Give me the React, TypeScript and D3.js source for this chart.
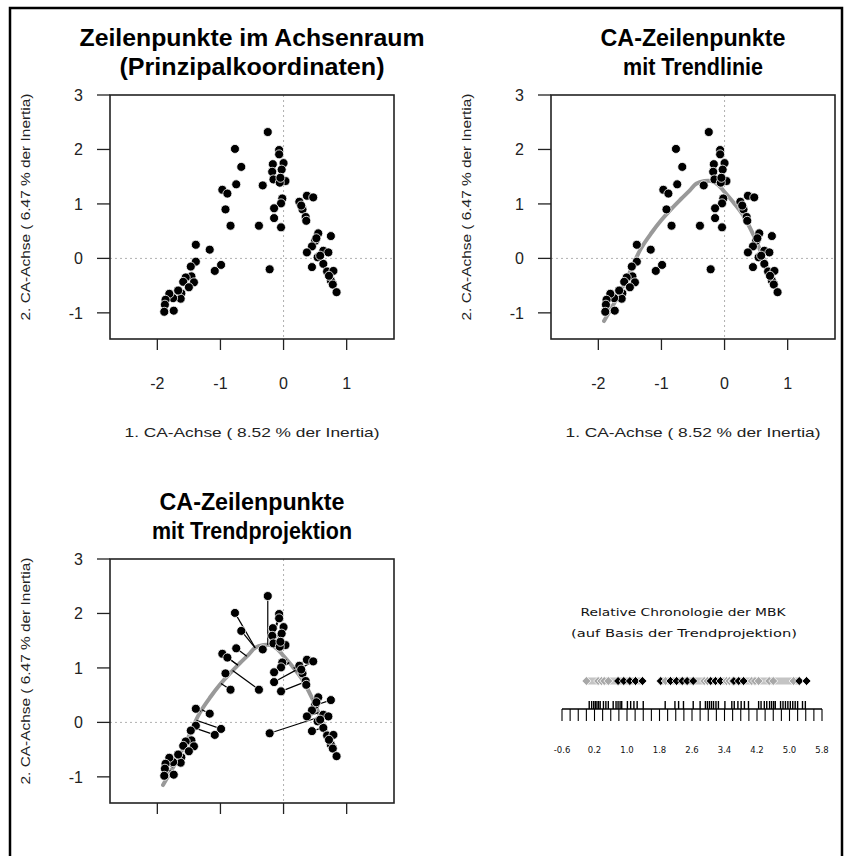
import React from "react";
import * as d3 from "d3";

// CA row points (1st axis, 2nd axis)
const rowX = [-0.25, -0.77, -0.07, -0.07, -0.17, 0.0, -0.03, -0.18, -0.67, -0.16, 0.03, -0.06, -0.75, -0.33, -0.97, -0.89, -0.02, -0.04, -0.92, -0.15, -0.15, -0.84, -0.39, -0.04, 0.25, 0.37, 0.47, 0.3, 0.35, 0.36, 0.55, 0.75, 0.5, 0.45, 0.37, 0.63, 0.71, 0.54, 0.63, 0.45, 0.69, 0.79, 0.75, 0.78, 0.84, -0.22, -1.39, -1.17, -1.39, -1.47, -0.99, -1.09, -1.46, -1.55, -1.42, -1.59, -1.5, -1.62, -1.63, -1.75, -1.81, -1.87, -1.88, -1.89, -1.74, -1.67, 0.52, 0.58, 0.72, -0.05, 0.28];
const rowY = [2.32, 2.01, 1.99, 1.91, 1.73, 1.75, 1.63, 1.59, 1.68, 1.45, 1.42, 1.39, 1.36, 1.34, 1.26, 1.19, 1.1, 1.01, 0.9, 0.92, 0.74, 0.6, 0.6, 0.57, 1.04, 1.15, 1.12, 0.9, 0.76, 0.69, 0.46, 0.41, 0.32, 0.22, 0.11, 0.14, 0.11, 0.02, -0.1, -0.16, -0.24, -0.23, -0.41, -0.48, -0.62, -0.2, 0.25, 0.16, -0.06, -0.15, -0.12, -0.23, -0.33, -0.35, -0.44, -0.43, -0.53, -0.64, -0.74, -0.73, -0.65, -0.76, -0.85, -0.98, -0.96, -0.59, 0.37, 0.05, -0.32, 1.48, 0.97];

// Trend line (smoothed)
const trendX = [-1.91, -1.7, -1.54, -1.33, -1.15, -1.01, -0.85, -0.69, -0.55, -0.45, -0.32, -0.21, -0.1, 0.0, 0.16, 0.3, 0.45, 0.59, 0.72, 0.84];
const trendY = [-1.15, -0.72, -0.35, 0.17, 0.48, 0.69, 0.9, 1.09, 1.25, 1.37, 1.42, 1.42, 1.35, 1.22, 1.0, 0.78, 0.45, 0.08, -0.28, -0.61];

const xTicks = [-2, -1, 0, 1];
const yTicks = [-1, 0, 1, 2, 3];

// Relative chronology (trend projection)
const chronoRug = [0.07, 0.13, 0.18, 0.22, 0.26, 0.3, 0.34, 0.42, 0.48, 0.54, 0.66, 0.73, 0.78, 0.83, 0.87, 1.01, 1.09, 1.17, 1.25, 1.4, 1.94, 2.18, 2.27, 2.39, 2.63, 2.8, 2.93, 2.98, 3.03, 3.08, 3.13, 3.19, 3.25, 3.41, 3.58, 3.64, 3.73, 3.81, 3.89, 3.99, 4.24, 4.3, 4.38, 4.44, 4.51, 4.56, 4.61, 4.65, 4.78, 4.84, 4.9, 4.96, 5.02, 5.08, 5.14, 5.2, 5.32, 5.39];
const chronoGray = [0.0, 0.29, 0.37, 0.44, 0.54, 1.95, 2.9, 2.98, 3.45, 3.52, 3.6, 4.07, 4.15, 4.24, 4.5, 4.6, 5.1];
const chronoBlack = [0.78, 0.92, 1.07, 1.21, 1.38, 1.83, 2.07, 2.22, 2.36, 2.48, 2.63, 3.06, 3.18, 3.3, 3.63, 3.75, 3.87, 5.24, 5.42];
const chronoBandStart = [-0.02, 1.78];
const chronoBandEnd = [1.42, 5.25];
const chronoTickLabels = ["-0.6", "0.2", "1.0", "1.8", "2.6", "3.4", "4.2", "5.0", "5.8"];

const FONT = "'Liberation Sans', Arial, sans-serif";
const PW = 284;
const PH = 244;

function project(px: number, py: number) {
  let best = { d: Infinity, x: px, y: py };
  for (let i = 0; i < trendX.length - 1; i++) {
    const ax = trendX[i], ay = trendY[i], bx = trendX[i + 1], by = trendY[i + 1];
    const dx = bx - ax, dy = by - ay;
    let t = ((px - ax) * dx + (py - ay) * dy) / (dx * dx + dy * dy);
    t = Math.max(0, Math.min(1, t));
    const qx = ax + t * dx, qy = ay + t * dy;
    const d = (qx - px) ** 2 + (qy - py) ** 2;
    if (d < best.d) best = { d, x: qx, y: qy };
  }
  return best;
}

function Panel(props: { left: number; top: number; t1: string; t2: string; t1w: number; t2w: number; xLabels: boolean; trend: boolean; proj: boolean }) {
  const { left, top, t1, t2, t1w, t2w, xLabels, trend, proj } = props;
  const x = d3.scaleLinear().domain([-2.75, 1.75]).range([left, left + PW]);
  const y = d3.scaleLinear().domain([-1.48, 3.0]).range([top + PH, top]);
  const line = d3
    .line<number>()
    .x((_, i) => x(trendX[i]))
    .y((_, i) => y(trendY[i]))
    .curve(d3.curveCatmullRom.alpha(0.5));
  const cx = left + PW / 2;
  return (
    <g>
      <text x={cx} y={top - 49} textAnchor="middle" fontFamily={FONT} fontWeight="bold" fontSize={23.5} textLength={t1w} lengthAdjust="spacingAndGlyphs">
        {t1}
      </text>
      <text x={cx} y={top - 20} textAnchor="middle" fontFamily={FONT} fontWeight="bold" fontSize={23.5} textLength={t2w} lengthAdjust="spacingAndGlyphs">
        {t2}
      </text>
      <line x1={x(0)} x2={x(0)} y1={top} y2={top + PH} stroke="#b0b0b0" strokeDasharray="2,3" />
      <line x1={left} x2={left + PW} y1={y(0)} y2={y(0)} stroke="#b0b0b0" strokeDasharray="2,3" />
      {trend && <path d={line(trendX) || ""} fill="none" stroke="#999" strokeWidth={4} strokeLinecap="round" />}
      {proj &&
        rowX.map((vx, i) => {
          const p = project(vx, rowY[i]);
          return <line key={"p" + i} x1={x(vx)} y1={y(rowY[i])} x2={x(p.x)} y2={y(p.y)} stroke="#000" strokeWidth={1.2} />;
        })}
      {rowX.map((vx, i) => (
        <circle key={i} cx={x(vx)} cy={y(rowY[i])} r={4.5} fill="#000" stroke="#fff" strokeWidth={0.8} />
      ))}
      <rect x={left} y={top} width={PW} height={PH} fill="none" stroke="#222" strokeWidth={1.6} />
      {yTicks.map((t) => (
        <g key={"y" + t}>
          <line x1={left - 13} x2={left} y1={y(t)} y2={y(t)} stroke="#222" strokeWidth={1.3} />
          <text x={left - 27} y={y(t) + 5.8} textAnchor="end" fontFamily={FONT} fontSize={16} fill="#222">
            {t}
          </text>
        </g>
      ))}
      {xTicks.map((t) => (
        <g key={"x" + t}>
          <line x1={x(t)} x2={x(t)} y1={top + PH} y2={top + PH + 11} stroke="#222" strokeWidth={1.3} />
          {xLabels && (
            <text x={x(t)} y={top + PH + 50} textAnchor="middle" fontFamily={FONT} fontSize={16} fill="#222">
              {t}
            </text>
          )}
        </g>
      ))}
      {xLabels && (
        <text x={cx} y={top + PH + 98} textAnchor="middle" fontFamily={FONT} fontSize={13.5} fill="#222" textLength={255} lengthAdjust="spacingAndGlyphs">
          1. CA-Achse ( 8.52 % der Inertia)
        </text>
      )}
      <text
        transform={`translate(${left - 80},${top + 112}) rotate(-90)`}
        textAnchor="middle"
        fontFamily={FONT}
        fontSize={13.5}
        fill="#222"
        textLength={227}
        lengthAdjust="spacingAndGlyphs"
      >
        2. CA-Achse ( 6.47 % der Inertia)
      </text>
    </g>
  );
}

function Chrono() {
  const s = d3.scaleLinear().domain([-0.6, 5.8]).range([562, 822]);
  const ticks = d3.range(0, 33).map((i) => -0.6 + i * 0.2);
  const yD = 681;
  const yAxis = 709;
  const dia = (v: number) => {
    const cx = s(v);
    return `M${cx - 4.5},${yD} L${cx},${yD - 4.5} L${cx + 4.5},${yD} L${cx},${yD + 4.5} Z`;
  };
  const all = [
    ...chronoGray.map((v) => ({ v, c: "#a8a8a8" })),
    ...chronoBlack.map((v) => ({ v, c: "#000" })),
  ].sort((a, b) => a.v - b.v);
  return (
    <g>
      <text x={683} y={616} textAnchor="middle" fontFamily="'DejaVu Sans', sans-serif" fontSize={11} fill="#111" textLength={205} lengthAdjust="spacingAndGlyphs">
        Relative Chronologie der MBK
      </text>
      <text x={684} y={637} textAnchor="middle" fontFamily="'DejaVu Sans', sans-serif" fontSize={11} fill="#111" textLength={226} lengthAdjust="spacingAndGlyphs">
        (auf Basis der Trendprojektion)
      </text>
      {chronoBandStart.map((b, i) => (
        <line key={"b" + i} x1={s(b)} x2={s(chronoBandEnd[i])} y1={yD} y2={yD} stroke="#c4c4c4" strokeWidth={7} />
      ))}
      {all.map((d, i) => (
        <path key={"d" + i} d={dia(d.v)} fill={d.c} stroke="#fff" strokeWidth={0.8} />
      ))}
      {chronoRug.map((v, i) => (
        <line key={"r" + i} x1={s(v)} x2={s(v)} y1={yAxis - 8} y2={yAxis} stroke="#000" strokeWidth={1.4} />
      ))}
      <line x1={s(-0.6)} x2={s(5.8)} y1={yAxis} y2={yAxis} stroke="#000" strokeWidth={1.3} />
      {ticks.map((t, i) => (
        <line key={"t" + i} x1={s(t)} x2={s(t)} y1={yAxis} y2={yAxis + 12} stroke="#000" strokeWidth={1.1} />
      ))}
      {chronoTickLabels.map((l, i) => (
        <text key={"l" + i} x={s(-0.6 + i * 0.8)} y={753} textAnchor="middle" fontFamily="'DejaVu Sans', sans-serif" fontSize={8.5} fill="#111">
          {l}
        </text>
      ))}
    </g>
  );
}

export default function App() {
  return (
    <svg width={848} height={856} style={{ position: "absolute", left: 0, top: 0, background: "#fff" }}>
      <rect width={848} height={856} fill="#fff" />
      <path d="M10,870 V8 H842 V870" fill="none" stroke="#000" strokeWidth={2.5} />
      <Panel left={110} top={95} t1="Zeilenpunkte im Achsenraum" t2="(Prinzipalkoordinaten)" t1w={345} t2w={265} xLabels={true} trend={false} proj={false} />
      <Panel left={551} top={95} t1="CA-Zeilenpunkte" t2="mit Trendlinie" t1w={185} t2w={140} xLabels={true} trend={true} proj={false} />
      <Panel left={110} top={559} t1="CA-Zeilenpunkte" t2="mit Trendprojektion" t1w={185} t2w={200} xLabels={false} trend={true} proj={true} />
      <Chrono />
    </svg>
  );
}
